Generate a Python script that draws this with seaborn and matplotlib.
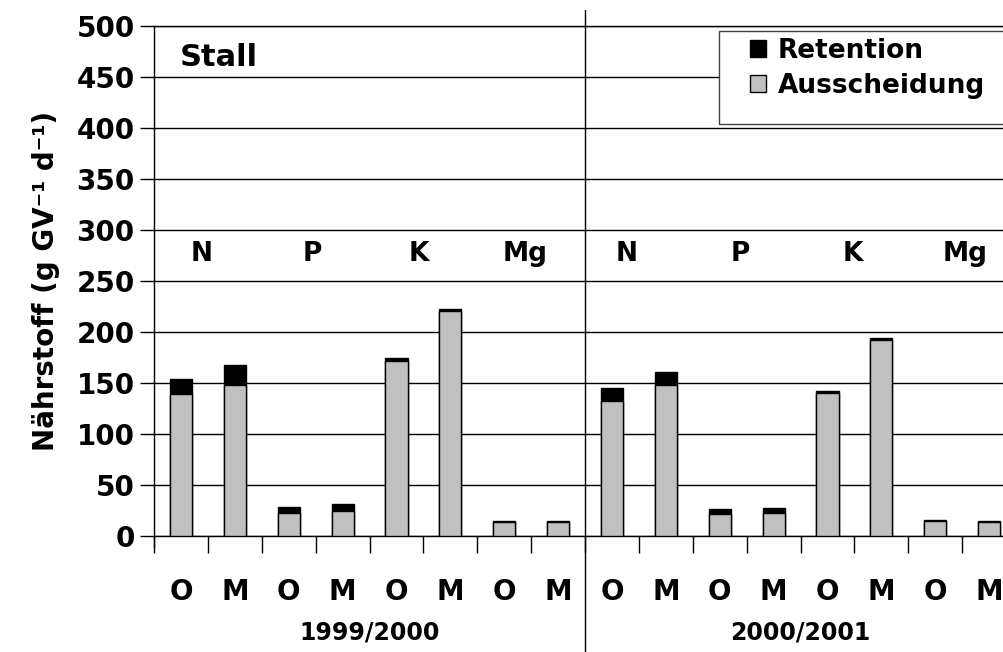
import numpy as np
import pandas as pd
import seaborn as sns
import matplotlib.pyplot as plt
import matplotlib.transforms as mtransforms
from matplotlib.patches import Patch, Rectangle

# Werte (g GV-1 d-1)
jahre = ['1999/2000', '2000/2001']
naehrstoffe = ['N', 'P', 'K', 'Mg']
gruppen = ['O', 'M']
ausscheidung = [139, 148, 23, 25, 172, 221, 14, 14,
                132, 148, 22, 23, 140, 192, 15, 14]
retention = [15, 20, 5, 6.5, 3, 2, 1, 0.5,
             13, 13, 4, 4.5, 2, 2, 1, 0.3]

sns.set_theme(style='white')
plt.rcParams['font.family'] = ['DejaVu Sans']
plt.rcParams['font.weight'] = 'bold'
plt.rcParams['axes.labelweight'] = 'bold'
for k in ['text.color', 'axes.labelcolor', 'xtick.color', 'ytick.color']:
    plt.rcParams[k] = 'black'

rows = []
for j in jahre:
    for n in naehrstoffe:
        for g in gruppen:
            rows.append((j, n, g))
df = pd.DataFrame(rows, columns=['jahr', 'naehrstoff', 'gruppe'])
df['key'] = [f'{i:02d}' for i in range(len(df))]
df['ausscheidung'] = ausscheidung
df['retention'] = retention
df['gesamt'] = df['ausscheidung'] + df['retention']

fig = plt.figure(figsize=(10.04, 6.52), dpi=100)
ax = fig.add_axes([0.1534, 0.1779, 0.8586, 0.7821])

grau = '#C0C0C0'
sns.barplot(data=df, x='key', y='gesamt', color='black', saturation=1,
            width=0.41, edgecolor='black', linewidth=1, ax=ax, zorder=3)
sns.barplot(data=df, x='key', y='ausscheidung', color=grau, saturation=1,
            width=0.41, edgecolor='black', linewidth=1, ax=ax, zorder=4)

ax.set_xlim(-0.5, len(df) - 0.5)
ax.set_ylim(0, 500)
ax.set_yticks(range(0, 501, 50))
ax.yaxis.grid(True, color='black', lw=1)
ax.set_axisbelow(True)
ax.tick_params(axis='y', length=10, width=1, labelsize=20, pad=4, left=True)

ax.set_xticks(np.arange(-0.5, len(df), 1))
ax.set_xticklabels([])
ax.set_xticks(np.arange(len(df)), minor=True)
ax.set_xticklabels(df['gruppe'], minor=True)
ax.tick_params(axis='x', which='major', length=12, width=1, bottom=True)
ax.tick_params(axis='x', which='minor', length=0, pad=30, labelsize=20)
ax.set_xlabel('')

for s in ['left', 'bottom', 'top']:
    ax.spines[s].set_visible(True)
    ax.spines[s].set_color('black')
    ax.spines[s].set_linewidth(1)
ax.spines['left'].set_bounds(-11, 500)

ax.set_ylabel('Nährstoff (g GV⁻¹ d⁻¹)', fontsize=20, labelpad=12)

trans = mtransforms.blended_transform_factory(ax.transData, ax.transAxes)
ax.plot([7.5, 7.5], [1.031, -0.227], transform=trans, clip_on=False,
        color='black', lw=1)

for xc, j in zip([3.5, 11.5], jahre):
    ax.text(xc, -0.19, j, transform=trans, ha='center', va='center', fontsize=17)

label_x = [0.39, 2.43, 4.42, 6.38, 8.28, 10.39, 12.47, 14.55]
for xc, n in zip(label_x, naehrstoffe * 2):
    ax.text(xc, 277, n, ha='center', va='center', fontsize=19)

ax.text(-0.02, 469, 'Stall', ha='left', va='center', fontsize=22)

# Legendenrahmen (rechts abgeschnitten wie im Original)
fig.add_artist(Rectangle((719 / 1004, 1 - 124 / 652), 0.3, 93 / 652,
                         transform=fig.transFigure, facecolor='white',
                         edgecolor='#404040', lw=1, zorder=5))
handles = [Patch(facecolor='black', edgecolor='black', label='Retention'),
           Patch(facecolor=grau, edgecolor='black', label='Ausscheidung')]
leg = fig.legend(handles=handles, loc='upper left', bbox_to_anchor=(0.742, 0.95),
                 fontsize=19, frameon=False, handlelength=0.6, handleheight=0.6,
                 handletextpad=0.45, borderpad=0.2, labelspacing=0.35,
                 borderaxespad=0)
leg.set_zorder(6)

fig.savefig('out.png', dpi=100)
